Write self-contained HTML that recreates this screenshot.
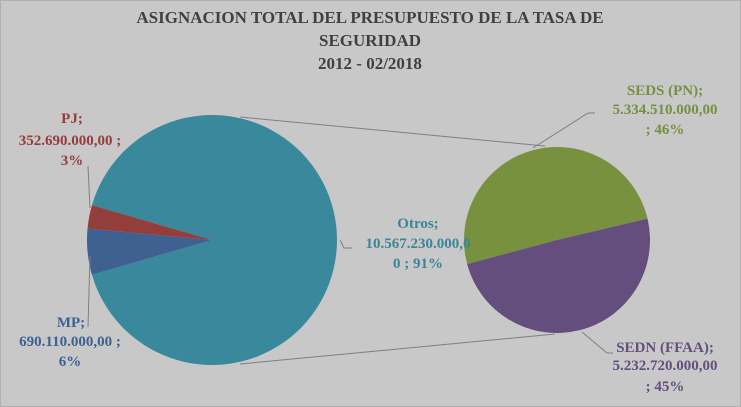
<!DOCTYPE html>
<html><head><meta charset="utf-8"><style>
body{margin:0;background:#fff}
svg{display:block}
text{font-family:"Liberation Serif",serif;font-weight:bold}
</style></head><body>
<svg id="chart" width="741" height="407" viewBox="0 0 741 407">
<rect x="0.5" y="0.5" width="740" height="406" fill="#c8c8c8" stroke="#b0b0b0"/>
<g fill="#404040" font-size="17" text-anchor="middle">
<text x="370" y="23" style="font-family:'Liberation Serif',serif">ASIGNACION TOTAL DEL PRESUPUESTO DE LA TASA DE</text>
<text x="370" y="46">SEGURIDAD</text>
<text x="370" y="69">2012 - 02/2018</text>
</g>
<g id="connectors" stroke="#7f7f7f" stroke-width="1" fill="none">
<line x1="240" y1="117" x2="545" y2="146"/>
<line x1="240" y1="364" x2="555" y2="334"/>
</g>
<g id="main"></g>
<g id="sub"></g>
<g stroke="#7f7f7f" stroke-width="1" fill="none">
<polyline points="90,208 88,166"/>
<polyline points="90,256 88,327"/>
<polyline points="340,240 344,248 352,248"/>
<polyline points="533,148 588,113 595,113"/>
<polyline points="582,332 607,353 613,353"/>
</g>
<g font-size="15" text-anchor="middle">
<g fill="#953d3b"><text x="72" y="123">PJ;</text><text x="70" y="145">352.690.000,00 ;</text><text x="72" y="165">3%</text></g>
<g fill="#3d6190"><text x="71" y="327">MP;</text><text x="70" y="346">690.110.000,00 ;</text><text x="70" y="366">6%</text></g>
<g fill="#3a8699"><text x="418" y="228">Otros;</text><text x="418" y="248">10.567.230.000,0</text><text x="418" y="268">0 ; 91%</text></g>
<g fill="#77903f"><text x="665" y="95">SEDS (PN);</text><text x="665" y="114">5.334.510.000,00</text><text x="665" y="134">; 46%</text></g>
<g fill="#634f7d"><text x="665" y="352">SEDN (FFAA);</text><text x="665" y="370">5.232.720.000,00</text><text x="665" y="391">; 45%</text></g>
</g>
</svg>
<script>
const mainCategories = ["MP", "PJ"];
const mainValues = [690110000, 352690000];
const otrosValue = 10567230000;
const subCategories = ["SEDS (PN)", "SEDN (FFAA)"];
const subValues = [5334510000, 5232720000];

const NS = "http://www.w3.org/2000/svg";
function pt(cx, cy, r, a){const t=a*Math.PI/180;return [cx+r*Math.cos(t), cy+r*Math.sin(t)];}
function slice(g, cx, cy, r, a0, a1, color, name){
  const p = document.createElementNS(NS, "path");
  const s = pt(cx,cy,r,a0), e = pt(cx,cy,r,a1);
  const large = (a1-a0) > 180 ? 1 : 0;
  p.setAttribute("d", `M${cx},${cy} L${s[0]},${s[1]} A${r},${r} 0 ${large} 1 ${e[0]},${e[1]} Z`);
  p.setAttribute("fill", color);
  
  
  g.appendChild(p);
}
// main pie
const mg = document.getElementById("main");
const mcx = 212, mcy = 240, mr = 125;
const total = otrosValue + mainValues.reduce((a,b)=>a+b,0);
const subDeg = (total - otrosValue) / total * 360;
let a = 180 - subDeg/2;
const mainColors = ["#3e6191", "#943e3c"];
const mainNames = ["slice-mp", "slice-pj"];
slice(mg, mcx, mcy, mr, 180 + subDeg/2, 180 - subDeg/2 + 360, "#3a889b", "slice-otros");
mainValues.forEach((v,i)=>{
  const d = v/total*360;
  slice(mg, mcx, mcy, mr, a, a+d, mainColors[i], mainNames[i]);
  a += d;
});
// sub pie
const sg = document.getElementById("sub");
const scx = 557, scy = 240, sr = 93;
const subTotal = subValues.reduce((a,b)=>a+b,0);
const subColors = ["#78913f", "#644e7d"];
const subNames = ["slice-seds", "slice-sedn"];
let b = 165;
subValues.forEach((v,i)=>{
  const d = v/subTotal*360;
  slice(sg, scx, scy, sr, b, b+d, subColors[i], subNames[i]);
  b += d;
});
</script>
</body></html>
